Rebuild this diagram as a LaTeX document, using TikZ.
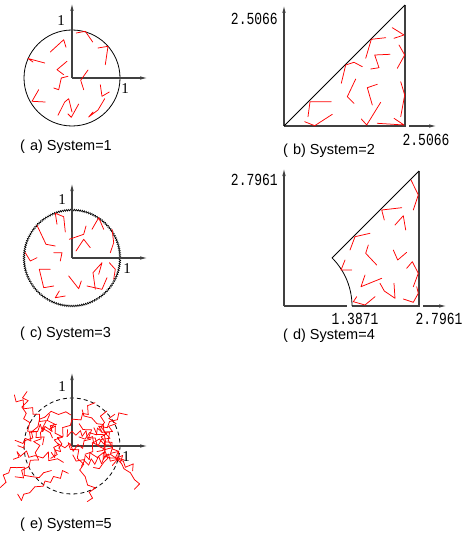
\documentclass[tikz,border=0pt]{standalone}
\usepackage{graphicx}
\usepackage{fontspec}
\setmainfont{Liberation Serif}
\newfontfamily\capfont{Liberation Sans}
\newfontfamily\monofont{Liberation Mono}
\usetikzlibrary{arrows.meta,decorations.pathmorphing}
\begin{document}
\begin{tikzpicture}[x=1pt,y=-1pt,
  axis/.style={draw=black!75,line width=1.2pt},
  axarrow/.style={axis,-{Latex[length=8pt,width=3.5pt]}},
  bound/.style={draw=black,line width=0.8pt},
  walk/.style={draw=red,line width=0.75pt,line cap=round,line join=round},
  num/.style={font=\fontsize{15}{15}\selectfont, inner sep=0pt},
  mono/.style={font=\monofont\fontsize{13}{13}\selectfont, inner sep=0pt},
  captext/.style={font=\capfont\fontsize{14.5}{14.5}\selectfont, anchor=west, inner sep=0pt},
]
\useasboundingbox[fill=white] (0,0) rectangle (462,540);

% ---------- (a) ----------
\coordinate (oA) at (72,78);
\draw[bound] (oA) circle[radius=48];
\draw[axarrow] (oA) -- (72,3);
\draw[axarrow] (oA) -- (148,78);
\node[num] (a1y) at (61,21) {1};
\node[num] (a1x) at (125,89) {1};
\draw[walk] (76.3,33) -- (85.3,31.3) -- (92.7,42);
\draw[walk] (98,48) -- (108,46.3) -- (105.3,64.7);
\draw[walk] (50.3,52) -- (63.7,39.7) -- (66,47.3);
\draw[walk] (33,62) -- (28,58.5) -- (44.7,63);
\draw[walk] (67,61.3) -- (57,69.7) -- (63.7,74.7);
\draw[walk] (68,76.3) -- (61.3,78) -- (58.7,89.7) -- (53.7,88);
\draw[walk] (88,70) -- (80.7,80.3) -- (83.7,89.7);
\draw[walk] (100.3,84.7) -- (102,96.3) -- (109.3,92);
\draw[walk] (38.7,89.7) -- (32,101.3) -- (45.3,102);
\draw[walk] (58,115.3) -- (64.7,102) -- (68.7,98.7) -- (72,112);
\draw[walk] (78.7,104) -- (71.3,117.3) -- (68,114);
\draw[walk] (104.7,98.7) -- (98,110) -- (88.7,117) -- (93,112);
\node[captext] (capA) at (20,147) {(\hspace{5pt}a) System=1};

% ---------- (b) ----------
\coordinate (oB) at (284,126);
\coordinate (bR) at (405,126);
\coordinate (bT) at (405,5);
\draw[axarrow] (oB) -- (284,5);
\draw[axis] (oB) -- (bR) -- (bT);
\draw[axarrow] (409,126) -- (437,126);
\draw[bound] (oB) -- (bT);
\node[mono,anchor=east] (bly) at (278,19) {\scalebox{1}[1.3]{2.5066}};
\node[mono] (blx) at (426,140) {\scalebox{1}[1.3]{2.5066}};
\draw[walk] (392.3,27.7) -- (404,35) -- (394,38.3);
\draw[walk] (385.7,37.7) -- (371.3,39.3) -- (365.7,58.3);
\draw[walk] (399,45) -- (404.7,55) -- (397.3,68.3);
\draw[walk] (390,54.3) -- (374.7,55) -- (379,67.7) -- (370.7,69);
\draw[walk] (362.3,66.7) -- (354,62.3) -- (345.7,65) -- (341.3,83.3);
\draw[walk] (355.7,79) -- (347.3,96.7) -- (354,103.3);
\draw[walk] (377.3,84.3) -- (367.3,87.7) -- (372.3,105);
\draw[walk] (400.7,81.7) -- (404.7,95) -- (400.7,116.7);
\draw[walk] (331.3,101.7) -- (310,101.7) -- (308,116.7);
\draw[walk] (380.7,102.3) -- (366.7,125) -- (361.3,119);
\draw[walk] (332.3,114.3) -- (314.7,125.7) -- (304.7,121.7);
\draw[walk] (377.3,123.3) -- (404,125) -- (394,118.3);
\node[captext] (capB) at (283,151) {(\hspace{5pt}b) System=2};

% ---------- (c) ----------
\coordinate (oC) at (72,258);
\draw[bound,line width=0.6pt,decorate,decoration={zigzag,segment length=2pt,amplitude=0.8pt}] (oC) circle[radius=48];
\draw[axarrow] (oC) -- (72,183);
\draw[axarrow] (oC) -- (148,258);
\node[num] (c1y) at (62,200) {1};
\node[num] (c1x) at (127,269) {1};
\draw[walk] (57,224.3) -- (55.3,213.3) -- (63.7,216.7) -- (65.3,232);
\draw[walk] (37,225.3) -- (46,244.3) -- (55.3,246);
\draw[walk] (69.3,239.3) -- (83.7,234.3) -- (86,226);
\draw[walk] (92,229.3) -- (98.7,217.7) -- (103.7,229.3);
\draw[walk] (112,229.3) -- (113.7,242.7) -- (110.3,252.7);
\draw[walk] (76,251) -- (83.7,239.3) -- (90.3,247.7);
\draw[walk] (25.3,252.7) -- (30.3,261) -- (37,257.7);
\draw[walk] (53.7,252.7) -- (62,252.7) -- (60.3,261);
\draw[walk] (50.3,269.3) -- (39.3,269.3) -- (43.7,287.7) -- (53.7,286);
\draw[walk] (68.7,276) -- (78.7,288.7) -- (81.3,281);
\draw[walk] (98.7,274.3) -- (102,262.7) -- (93,272.7) -- (95.3,289.3);
\draw[walk] (109.3,262.7) -- (115.3,269.3) -- (113.7,279.3);
\draw[walk] (87,286) -- (102,289.3) -- (107,277.7);
\draw[walk] (59.3,291) -- (55.3,297.7) -- (65.3,296);
\node[captext] (capC) at (20,334) {(\hspace{5pt}c) System=3};

% ---------- (d) ----------
\coordinate (oD) at (284,306);
\coordinate (dA) at (352,306);
\coordinate (dR) at (419,306);
\coordinate (dT) at (419,171);
\draw[axarrow] (oD) -- (284,168);
\draw[axis] (oD) -- (347,306);
\draw[axis] (dA) -- (dR) -- (dT);
\draw[axarrow] (423,306) -- (447,306);
\draw[bound] (dA) arc[start angle=0,end angle=-45,radius=68] -- (dT);
\node[mono,anchor=east] (dly) at (278,180) {\scalebox{1}[1.3]{2.7961}};
\node[mono] (dlx1) at (355,319) {\scalebox{1}[1.3]{1.3871}};
\node[mono] (dlx2) at (439,319) {\scalebox{1}[1.3]{2.7961}};
\draw[walk] (411,180) -- (418.3,195) -- (413.3,210);
\draw[walk] (401.7,207.7) -- (381.7,210) -- (384.3,220);
\draw[walk] (395,225) -- (403.3,215.7) -- (405.7,230);
\draw[walk] (370,233.3) -- (355,236.7) -- (350,250);
\draw[walk] (368.3,245) -- (365.7,253.3) -- (376.7,265);
\draw[walk] (393.3,250) -- (397.7,260) -- (406.7,252.3);
\draw[walk] (345,260) -- (341,270) -- (351.7,270);
\draw[walk] (406.7,268.3) -- (412.3,261.7) -- (418.3,273.3) -- (413.3,286.7);
\draw[walk] (365,275) -- (361,286.7) -- (381.7,278.3);
\draw[walk] (380,283.3) -- (384.3,291) -- (395,298.3) -- (394,283.3);
\draw[walk] (416.7,286.7) -- (418.3,293.3) -- (413.3,302.3) -- (403.3,299);
\draw[walk] (356.7,296.7) -- (353.3,301.7) -- (365,305) -- (375,296.7);
\node[captext] (capD) at (283,336) {(\hspace{5pt}d) System=4};

% ---------- (e) ----------
\coordinate (oE) at (72,446);
\draw[bound,dash pattern=on 4pt off 3pt] (oE) circle[radius=48];
\draw[axarrow] (oE) -- (72,372);
\draw[axarrow] (oE) -- (148,446);
\node[num] (e1y) at (62,387) {1};
\node[num] (e1x) at (126,457) {1};
\pgfmathsetseed{2718}
\foreach \k in {1,...,22}{
  \pgfmathsetmacro\wa{137.5*\k}
  \pgfmathsetmacro\wr{34*sqrt((\k-0.5)/22)}
  \pgfmathsetmacro\hd{\wa+110*rand}
  \xdef\hh{\hd}
  \coordinate (wp) at ({72+\wr*cos(\wa)},{446-\wr*sin(\wa)});
  \foreach \s in {1,...,11}{
    \pgfmathsetmacro\hn{\hh+30*rand}
    \xdef\hh{\hn}
    \pgfmathsetmacro\ang{\hh+42*(2*mod(\s,2)-1)+35*rand}
    \pgfmathsetmacro\len{5.5+3.5*rnd}
    \draw[walk] (wp) -- ++(\ang:\len) coordinate (wp);
  }
}
\node[captext] (capE) at (20,525) {(\hspace{5pt}e) System=5};
\end{tikzpicture}
\end{document}
